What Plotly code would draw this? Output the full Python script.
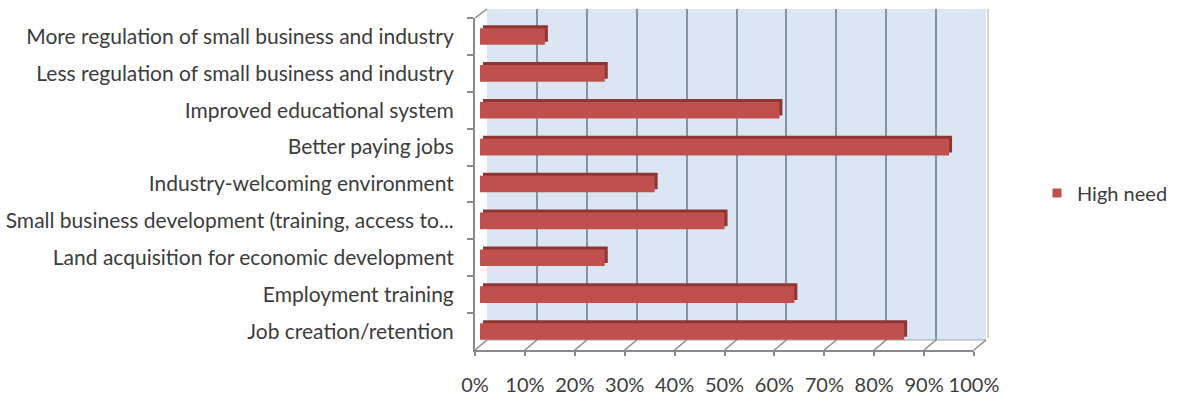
import plotly.graph_objects as go

# ---- data ----
categories = [
    "More regulation of small business and industry",
    "Less regulation of small business and industry",
    "Improved educational system",
    "Better paying jobs",
    "Industry-welcoming environment",
    "Small business development (training, access to...",
    "Land acquisition for economic development",
    "Employment training",
    "Job creation/retention",
]
high_need = [0.13, 0.25, 0.60, 0.94, 0.35, 0.49, 0.25, 0.63, 0.85]
tick_values = [0, 0.1, 0.2, 0.3, 0.4, 0.5, 0.6, 0.7, 0.8, 0.9, 1.0]
tick_labels = ["0%", "10%", "20%", "30%", "40%", "50%", "60%", "70%", "80%", "90%", "100%"]
series_name = "High need"

# ---- geometry (pixels) ----
W, H = 1179, 395
def px(x):
    return x / W
def py(y):
    return 1 - y / H

FX0, FX1, FY0, FY1 = 475, 974, 18, 350      # front plane
BX0, BX1, BY0, BY1 = 487, 986, 9, 340       # back wall
BAR_X0, BAR_X1 = 480, 979                    # bar front faces
SH = 3                                       # 3D extrusion offset

RED = "#c0504d"
RED_DARK = "#8e3633"
GRID = "#8394a6"
AXIS = "#8a8a8a"
TXT = "#3c3c3c"
FONT = "Lato"
YSIZE = 21
XSIZE = 20

fig = go.Figure()
n = len(categories)

# back wall subplot placeholder (so its gridlines are drawn)
fig.add_trace(go.Scatter(x=[None], y=[None], xaxis="x", yaxis="y",
                         mode="markers", showlegend=False, hoverinfo="skip"))
# front axes placeholder (category labels)
fig.add_trace(go.Scatter(x=[None] * n, y=categories, xaxis="x2", yaxis="y2",
                         mode="markers", showlegend=False, hoverinfo="skip"))
# shadow (top / side faces)
fig.add_trace(go.Bar(
    x=high_need, y=categories, orientation="h", width=0.45,
    marker=dict(color=RED_DARK, line=dict(width=0)),
    xaxis="x3", yaxis="y3", showlegend=False, hoverinfo="skip",
))
# front faces
fig.add_trace(go.Bar(
    x=high_need, y=categories, orientation="h", width=0.45,
    marker=dict(color=RED, line=dict(width=0)),
    xaxis="x4", yaxis="y4", showlegend=False,
))
# legend entry
fig.add_trace(go.Scatter(
    x=[None], y=[None], mode="markers", name=series_name,
    marker=dict(symbol="square", size=9, color=RED),
    xaxis="x4", yaxis="y4",
))

cat_axis = dict(type="category", categoryorder="array", categoryarray=categories,
                range=[n - 0.5, -0.5])
hidden = dict(showgrid=False, zeroline=False, showticklabels=False, showline=False, ticks="")

shapes = []
# back wall
shapes.append(dict(type="rect", xref="paper", yref="paper", layer="below",
                   x0=px(BX0), x1=px(BX1), y0=py(BY1), y1=py(BY0),
                   fillcolor="#dce6f2", line=dict(width=0)))
# back bottom edge
shapes.append(dict(type="line", xref="paper", yref="paper", layer="below",
                   x0=px(BX0), x1=px(BX1), y0=py(BY1), y1=py(BY1),
                   line=dict(color="#a6a6a6", width=1)))
# right edge thickness
shapes.append(dict(type="line", xref="paper", yref="paper", layer="below",
                   x0=px(BX1 + 2), x1=px(BX1 + 2), y0=py(BY1 - 2), y1=py(BY0),
                   line=dict(color="#a6a6a6", width=1)))
# top-left wall edge
shapes.append(dict(type="line", xref="paper", yref="paper", layer="below",
                   x0=px(FX0), x1=px(BX0), y0=py(FY0), y1=py(BY0),
                   line=dict(color=AXIS, width=1.5)))
# floor diagonals at each tick
for v in tick_values:
    fx = FX0 + v * (FX1 - FX0)
    bx = BX0 + v * (BX1 - BX0)
    shapes.append(dict(type="line", xref="paper", yref="paper", layer="below",
                       x0=px(fx), x1=px(bx), y0=py(FY1), y1=py(BY1),
                       line=dict(color=AXIS, width=1.5)))

fig.update_layout(
    width=W, height=H,
    margin=dict(l=0, r=0, t=0, b=0, autoexpand=False),
    paper_bgcolor="white", plot_bgcolor="rgba(0,0,0,0)",
    font=dict(family=FONT, size=YSIZE, color=TXT),
    barmode="overlay",
    shapes=shapes,
    # back wall gridlines
    xaxis=dict(domain=[px(BX0), px(BX1)], range=[0, 1], anchor="y",
               showgrid=True, gridcolor=GRID, gridwidth=2, tick0=0, dtick=0.1,
               zeroline=False, showticklabels=False, showline=False, ticks=""),
    yaxis=dict(domain=[py(BY1), py(BY0)], range=[0, 1], anchor="x", **hidden),
    # front axes
    xaxis2=dict(domain=[px(FX0), px(FX1)], range=[0, 1], anchor="y2",
                showgrid=False, zeroline=False, showline=True, linecolor=AXIS, linewidth=2,
                ticks="outside", ticklen=4, tickcolor=AXIS, tickwidth=1.5,
                tickvals=tick_values, ticktext=tick_labels, ticklabelstandoff=12,
                tickangle=0,
                tickfont=dict(family=FONT, size=XSIZE, color=TXT)),
    yaxis2=dict(domain=[py(FY1), py(FY0)], anchor="x2", **cat_axis,
                showgrid=False, zeroline=False, showline=True, linecolor=AXIS, linewidth=2,
                ticks="outside", tickson="boundaries", ticklen=6, tickcolor=AXIS, tickwidth=1.5,
                ticklabelstandoff=15,
                tickfont=dict(family=FONT, size=YSIZE, color=TXT)),
    # shadow bars
    xaxis3=dict(domain=[px(BAR_X0 + SH), px(BAR_X1 + SH)], range=[0, 1], anchor="y3", **hidden),
    yaxis3=dict(domain=[py(FY1 - SH), py(FY0 - SH)], anchor="x3", **cat_axis, **hidden),
    # front bars
    xaxis4=dict(domain=[px(BAR_X0), px(BAR_X1)], range=[0, 1], anchor="y4", **hidden),
    yaxis4=dict(domain=[py(FY1), py(FY0)], anchor="x4", **cat_axis, **hidden),
    legend=dict(x=px(1037), xanchor="left", y=py(193), yanchor="middle",
                itemwidth=30,
                bgcolor="rgba(0,0,0,0)", font=dict(family=FONT, size=20, color=TXT)),
)

fig.write_html("out.html")
